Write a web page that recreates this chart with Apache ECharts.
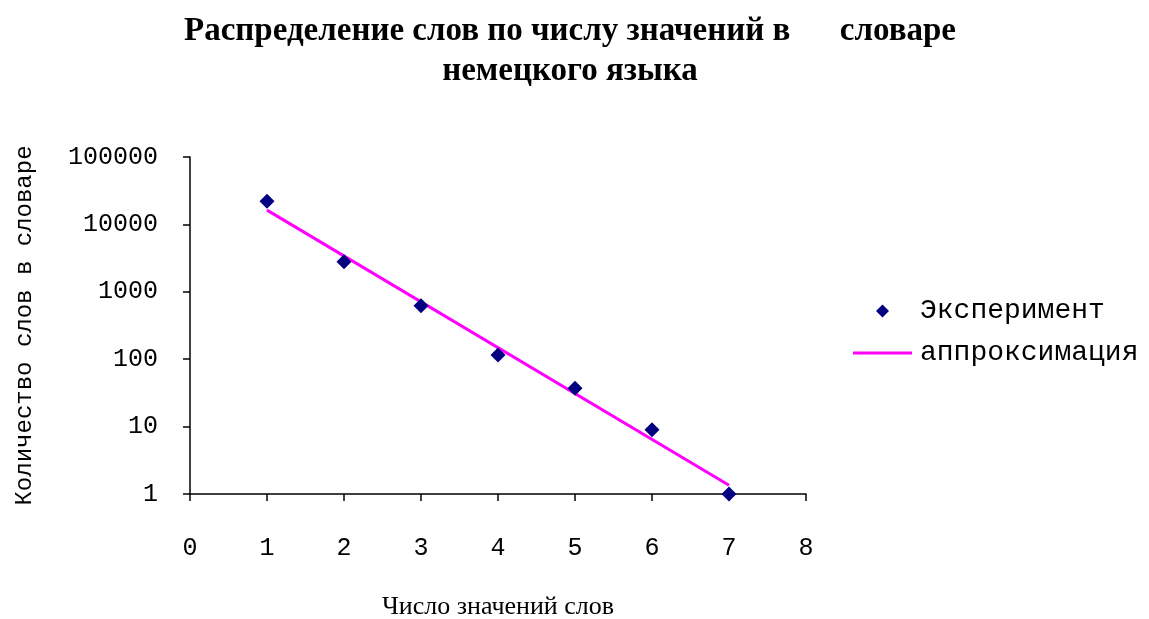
<!DOCTYPE html>
<html><head><meta charset="utf-8">
<script src="https://cdn.jsdelivr.net/npm/echarts@6/dist/echarts.min.js"></script>
<style>html,body{margin:0;padding:0;background:#fff}#c{width:1149px;height:619px}</style>
</head><body><div id="c"></div>
<script>
const titleLines = ['Распределение слов по числу значений в      словаре', 'немецкого языка'];
const xName = 'Число значений слов';
const yName = 'Количество слов в словаре';
const seriesNames = ['Эксперимент', 'аппроксимация'];
const expX = [1, 2, 3, 4, 5, 6, 7];
const expY = [22000, 2800, 620, 115, 37, 9, 1];
const fitX = [1, 7];
const fitY = [16300, 1.35];

const chart = echarts.init(document.getElementById('c'));
chart.setOption({
  animation: false,
  backgroundColor: '#fff',
  title: {
    text: titleLines.join('\n'),
    left: 565, textAlign: 'center', top: 6,
    textStyle: { fontFamily: 'Liberation Serif', fontWeight: 'bold', fontSize: 33, color: '#000', lineHeight: 40 }
  },
  legend: [
    {
      orient: 'vertical', left: 876, top: 297, padding: 0,
      itemWidth: 13, itemHeight: 13, icon: 'diamond',
      textStyle: { fontFamily: 'Liberation Mono', fontSize: 28, color: '#000', padding: [0, 0, 0, 26] },
      data: [seriesNames[0]]
    },
    {
      orient: 'vertical', left: 853, top: 339, padding: 0,
      itemWidth: 59, itemHeight: 3, icon: 'rect',
      textStyle: { fontFamily: 'Liberation Mono', fontSize: 28, color: '#000', padding: [0, 0, 0, 3] },
      data: [seriesNames[1]]
    }
  ],
  grid: { left: 190, right: 343, top: 157, bottom: 125, outerBoundsMode: 'none', containLabel: false },
  xAxis: {
    type: 'value', min: 0, max: 8, interval: 1,
    name: xName, nameLocation: 'middle', nameGap: 100,
    nameTextStyle: { fontFamily: 'Liberation Serif', fontSize: 26, color: '#000' },
    axisLine: { lineStyle: { color: '#000', width: 1.5 } },
    axisTick: { show: true, length: 7, lineStyle: { color: '#000', width: 1.5 } },
    axisLabel: { margin: 42, fontFamily: 'Liberation Mono', fontSize: 25, color: '#000' },
    splitLine: { show: false }
  },
  yAxis: {
    type: 'log', logBase: 10, min: 1, max: 100000,
    name: yName, nameLocation: 'middle', nameGap: 153, nameRotate: 90,
    nameTextStyle: { fontFamily: 'Liberation Mono', fontSize: 24, color: '#000' },
    axisLine: { show: true, lineStyle: { color: '#000', width: 1.5 } },
    axisTick: { show: true, length: 7, lineStyle: { color: '#000', width: 1.5 } },
    axisLabel: { margin: 32, fontFamily: 'Liberation Mono', fontSize: 25, color: '#000', formatter: v => String(Math.round(v)) },
    minorTick: { show: false },
    splitLine: { show: false }
  },
  series: [
    {
      name: seriesNames[0], type: 'scatter', symbol: 'diamond', symbolSize: 15,
      itemStyle: { color: '#000080', opacity: 1 },
      data: expX.map((x, i) => [x, expY[i]]), z: 3
    },
    {
      name: seriesNames[1], type: 'line', symbol: 'none',
      lineStyle: { color: '#FF00FF', width: 3 }, itemStyle: { color: '#FF00FF' },
      data: fitX.map((x, i) => [x, fitY[i]]), z: 2
    }
  ]
});
</script></body></html>
